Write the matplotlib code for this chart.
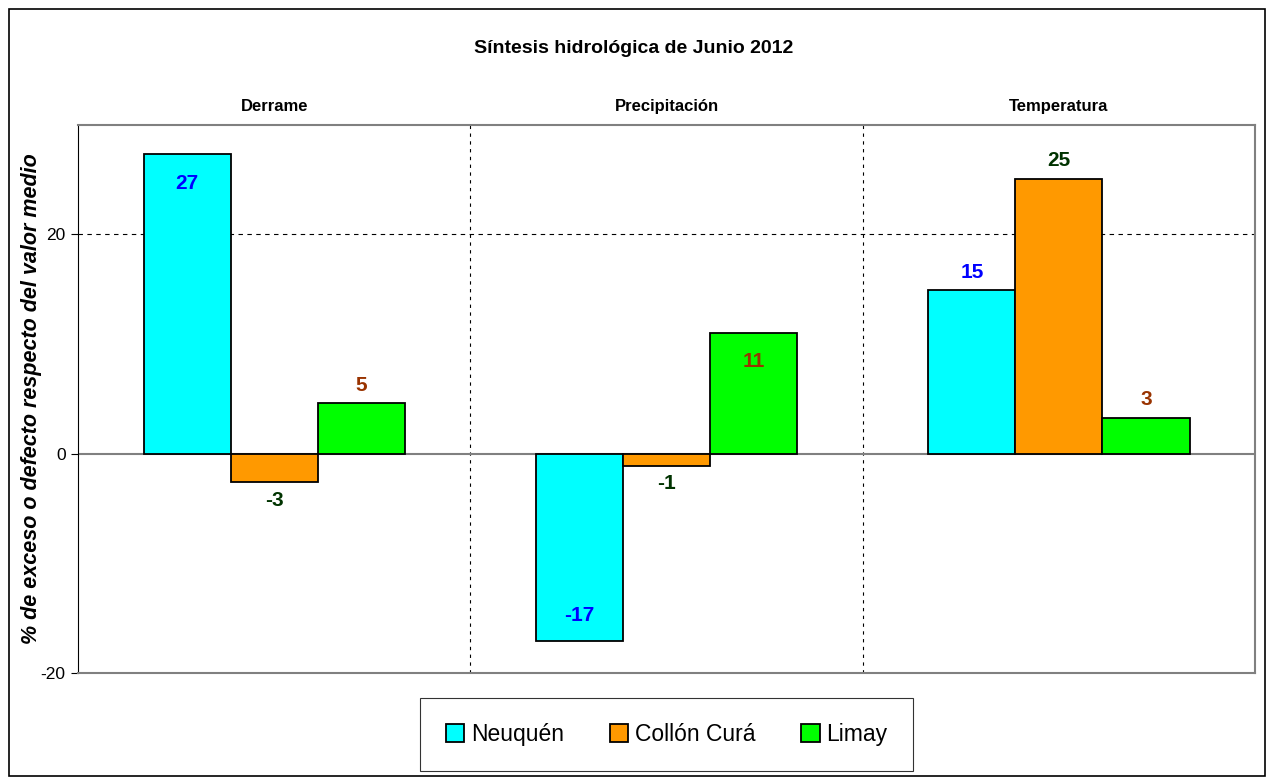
import numpy as np
import matplotlib.pyplot as plt
from matplotlib.patches import Rectangle

plt.rcParams['font.family'] = ['Liberation Sans', 'DejaVu Sans']
plt.rcParams['axes.unicode_minus'] = False

categories = ['Derrame', 'Precipitación', 'Temperatura']
series = ['Neuquén', 'Collón Curá', 'Limay']
neuquen = [27.3, -17.1, 14.9]
collon_cura = [-2.6, -1.1, 25.1]
limay = [4.6, 11.05, 3.3]
values = [neuquen, collon_cura, limay]

bar_colors = ['#00FFFF', '#FF9900', '#00FF00']
label_colors = ['#0000FF', '#003300', '#993300']
# labels drawn inside the end of the bar instead of outside
inside = [[True, True, False], [False, False, False], [False, True, False]]

fig = plt.figure(figsize=(12.67, 7.78), dpi=100)
ax = fig.add_axes([0.0616, 0.135, 0.929, 0.7045])

x = np.arange(len(categories))
w = 0.222
for i, (name, vals) in enumerate(zip(series, values)):
    pos = x + (i - 1) * w
    ax.bar(pos, vals, w, color=bar_colors[i], edgecolor='black',
           linewidth=1.3, label=name, zorder=3)
    for j, v in enumerate(vals):
        txt = str(int(round(v)))
        up = v >= 0
        if inside[i][j]:
            va = 'top' if up else 'bottom'
            off = -14 if up else 12
        else:
            va = 'bottom' if up else 'top'
            off = 6 if up else -6
        ax.annotate(txt, (pos[j], v), xytext=(0, off), textcoords='offset points',
                    ha='center', va=va, fontsize=15, fontweight='bold',
                    color=label_colors[i], zorder=4)

ax.set_xlim(-0.5, 2.5)
ax.set_ylim(-20, 30)
ax.set_yticks([-20, 0, 20])
ax.set_xticks([])
ax.tick_params(axis='y', direction='out', length=5, labelsize=12.5, pad=4)
ax.axhline(20, color='black', linestyle=(0, (4, 4)), linewidth=0.8, zorder=1)
ax.axhline(0, color='#808080', linewidth=1.5, zorder=2)
for xs in [0.5, 1.5]:
    ax.axvline(xs, color='black', linestyle=(0, (3, 4)), linewidth=0.8, zorder=1)

for side in ['top', 'right', 'bottom']:
    ax.spines[side].set_color('#808080')
    ax.spines[side].set_linewidth(1.5)
ax.spines['left'].set_color('black')

for j, c in enumerate(categories):
    ax.text(x[j], 1.02, c, transform=ax.get_xaxis_transform(), ha='center',
            va='bottom', fontsize=12, fontweight='bold')

fig.text(0.5, 0.938, 'Síntesis hidrológica de Junio 2012', ha='center',
         va='center', fontsize=14, fontweight='bold')
ax.set_ylabel('% de exceso o defecto respecto del valor medio', fontsize=15.5,
              fontweight='bold', fontstyle='italic')
ax.yaxis.set_label_coords(-0.031, 0.5)

leg = ax.legend(loc='upper center', bbox_to_anchor=(0.5, -0.024), ncol=3,
                fontsize=16.5, frameon=True, fancybox=False, edgecolor='black',
                handlelength=0.8, handleheight=0.8, handletextpad=0.3,
                columnspacing=2.0, borderpad=1.1)
leg.get_frame().set_linewidth(0.8)

fig.patches.append(Rectangle((0.0071, 0.0026), 0.9913, 0.9854, transform=fig.transFigure,
                             fill=False, edgecolor='black', linewidth=1.2))

fig.savefig('out.png', dpi=100)
